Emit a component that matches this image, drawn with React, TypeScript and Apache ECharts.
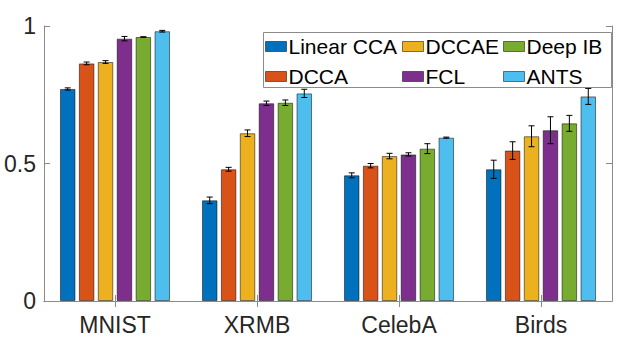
import React, { useEffect, useRef } from "react";
import * as echarts from "echarts";

const categories = ["MNIST", "XRMB", "CelebA", "Birds"];
const methods = ["Linear CCA", "DCCA", "DCCAE", "FCL", "Deep IB", "ANTS"];
const colors = ["#0072BD", "#D95319", "#EDB120", "#7E2F8E", "#77AC30", "#4DBEEE"];

const linearCCA = [0.771, 0.366, 0.457, 0.479];
const dcca = [0.864, 0.479, 0.492, 0.547];
const dccae = [0.869, 0.61, 0.527, 0.599];
const fcl = [0.954, 0.719, 0.533, 0.621];
const deepIB = [0.96, 0.721, 0.554, 0.646];
const ants = [0.981, 0.755, 0.594, 0.744];

const linearCCAErr = [0.004, 0.012, 0.009, 0.033];
const dccaErr = [0.005, 0.007, 0.008, 0.032];
const dccaeErr = [0.005, 0.012, 0.01, 0.038];
const fclErr = [0.008, 0.008, 0.006, 0.049];
const deepIBErr = [0.001, 0.01, 0.018, 0.029];
const antsErr = [0.003, 0.015, 0.002, 0.029];

const yTicks = [0, 0.5, 1];

const values = [linearCCA, dcca, dccae, fcl, deepIB, ants];
const errors = [linearCCAErr, dccaErr, dccaeErr, fclErr, deepIBErr, antsErr];

const BAR_W = 15.5;
const GAP_RATIO = 0.22;
const FONT = "'Liberation Sans', Arial, Helvetica, sans-serif";
const AXIS_COLOR = "#8a8a8a";

export default function App() {
  const ref = useRef<HTMLDivElement>(null);
  useEffect(() => {
    if (!ref.current) return;
    const chart = echarts.init(ref.current, null, { renderer: "svg" });

    const errData: number[][] = [];
    values.forEach((arr, s) => {
      arr.forEach((v, c) => errData.push([c, s, v, errors[s][c]]));
    });

    const barSeries = methods.map((name, i) => ({
      name,
      type: "bar",
      data: values[i],
      barWidth: BAR_W,
      barGap: GAP_RATIO * 100 + "%",
      itemStyle: { color: colors[i], borderColor: "rgba(0,0,0,0.5)", borderWidth: 1 },
      emphasis: { disabled: true },
    }));

    const n = methods.length;
    const gap = BAR_W * GAP_RATIO;
    const total = n * BAR_W + (n - 1) * gap;

    const errSeries = {
      type: "custom",
      z: 10,
      data: errData,
      encode: { x: 0, y: 2 },
      renderItem: (params: any, api: any) => {
        const c = api.value(0);
        const s = api.value(1);
        const v = api.value(2);
        const e = api.value(3);
        const off = -total / 2 + s * (BAR_W + gap) + BAR_W / 2;
        const top = api.coord([c, v + e]);
        const bot = api.coord([c, v - e]);
        const x = top[0] + off;
        const cap = 3;
        const style = { stroke: "#000", lineWidth: 1 };
        return {
          type: "group",
          children: [
            { type: "line", shape: { x1: x, y1: top[1], x2: x, y2: bot[1] }, style },
            { type: "line", shape: { x1: x - cap, y1: top[1], x2: x + cap, y2: top[1] }, style },
            { type: "line", shape: { x1: x - cap, y1: bot[1], x2: x + cap, y2: bot[1] }, style },
          ],
        };
      },
    };

    const legendCommon = {
      orient: "vertical",
      top: 36,
      padding: 0,
      itemGap: 9,
      itemWidth: 21,
      itemHeight: 10,
      icon: "rect",
      selectedMode: false,
      itemStyle: { borderColor: "rgba(0,0,0,0.5)", borderWidth: 1 },
      textStyle: { fontFamily: FONT, fontSize: 21, color: "#000", lineHeight: 20, padding: [0, 0, 0, -3] },
    };

    chart.setOption({
      animation: false,
      grid: { left: 44, right: 11, top: 26, bottom: 49, containLabel: false },
      legend: [
        { ...legendCommon, left: 265, data: ["Linear CCA", "DCCA"] },
        { ...legendCommon, left: 402, data: ["DCCAE", "FCL"] },
        { ...legendCommon, left: 503, data: ["Deep IB", "ANTS"] },
      ],
      graphic: [
        {
          type: "rect",
          z: 3,
          shape: { x: 263.5, y: 32.5, width: 348, height: 55 },
          style: { fill: "#fff", stroke: "#8c8c8c", lineWidth: 1 },
        },
      ],
      xAxis: [
        {
          type: "category",
          data: categories,
          position: "bottom",
          axisLine: { show: true, lineStyle: { color: AXIS_COLOR, width: 1 } },
          axisTick: { show: true, inside: true, length: 6, alignWithLabel: true, lineStyle: { color: AXIS_COLOR } },
          axisLabel: { fontFamily: FONT, fontSize: 23, color: "#262626", margin: 12 },
        },
        {
          type: "category",
          data: categories,
          position: "top",
          axisLine: { show: true, lineStyle: { color: AXIS_COLOR, width: 1 } },
          axisTick: { show: true, inside: true, length: 6, alignWithLabel: true, lineStyle: { color: AXIS_COLOR } },
          axisLabel: { show: false },
        },
      ],
      yAxis: [
        {
          type: "value",
          min: yTicks[0],
          max: yTicks[yTicks.length - 1],
          interval: 0.5,
          position: "left",
          splitLine: { show: false },
          axisLine: { show: true, lineStyle: { color: AXIS_COLOR, width: 1 } },
          axisTick: { show: true, inside: true, length: 6, lineStyle: { color: AXIS_COLOR } },
          axisLabel: { fontFamily: FONT, fontSize: 23, color: "#262626", margin: 8 },
        },
        {
          type: "value",
          min: yTicks[0],
          max: yTicks[yTicks.length - 1],
          interval: 0.5,
          position: "right",
          splitLine: { show: false },
          axisLine: { show: true, lineStyle: { color: AXIS_COLOR, width: 1 } },
          axisTick: { show: true, inside: true, length: 6, lineStyle: { color: AXIS_COLOR } },
          axisLabel: { show: false },
        },
      ],
      series: [...barSeries, errSeries],
    });
    return () => chart.dispose();
  }, []);
  return (
    <div
      ref={ref}
      style={{ position: "fixed", left: 0, top: 0, width: 623, height: 350, background: "#fff" }}
    />
  );
}
